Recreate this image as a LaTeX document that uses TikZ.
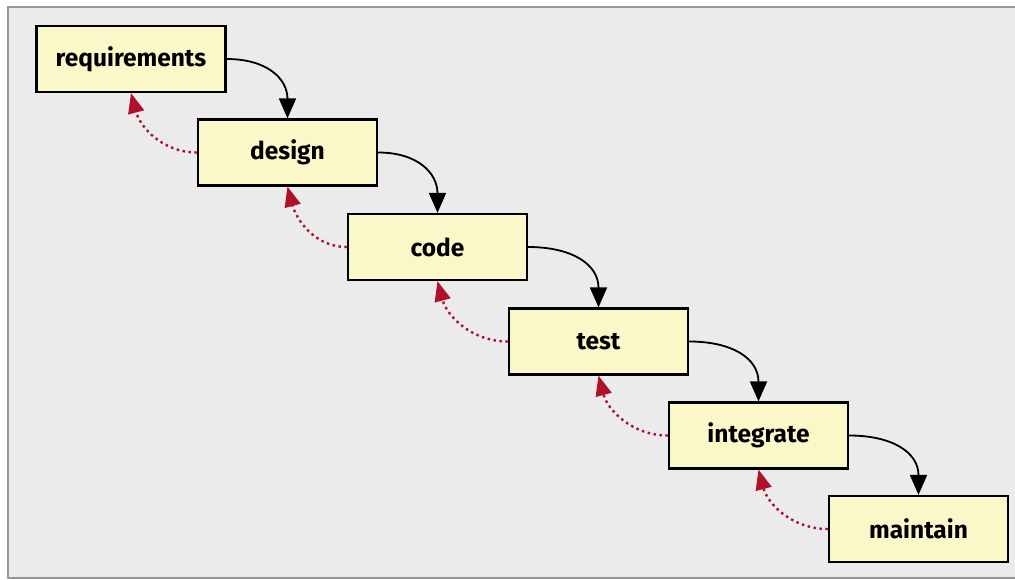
\documentclass[tikz,border=0pt]{standalone}
\usepackage{fontspec}
\setmainfont{Fira Sans}
\usetikzlibrary{arrows.meta}
\definecolor{bgray}{RGB}{235,235,235}
\definecolor{frame}{RGB}{150,150,150}
\definecolor{boxfill}{RGB}{250,248,200}
\definecolor{backred}{RGB}{176,16,42}
\tikzset{
  phase/.style={draw=black, line width=2.2pt, fill=boxfill, minimum height=66pt, minimum width=179pt, inner sep=0pt, font=\fontsize{24.5}{28}\selectfont\bfseries},
  fwd/.style={draw=black, line width=1.8pt, -{Triangle[length=20pt,width=17pt]}},
  back/.style={draw=backred, line width=2.4pt, dash pattern=on 2.5pt off 3.5pt, -{Triangle[length=20pt,width=16pt]}}
}
\begin{document}
\begin{tikzpicture}[x=1pt,y=-1pt]
\useasboundingbox (0,0) rectangle (1015,580);
\draw[draw=frame, line width=2pt, fill=bgray] (8,7) rectangle (1030,578);
\node[phase, minimum width=189pt] (req) at (131,59) {requirements};
\node[phase] (des) at (287.5,152.5) {design};
\node[phase] (cod) at (437.5,247) {code};
\node[phase] (tst) at (598.5,341.5) {test};
\node[phase] (int) at (758.5,435.5) {integrate};
\node[phase] (mnt) at (918.5,529) {maintain};
\draw[fwd] (req.east) to[out=0,in=90,looseness=1.2] (des.north);
\draw[fwd] (des.east) to[out=0,in=90,looseness=1.2] (cod.north);
\draw[fwd] (cod.east) to[out=0,in=90,looseness=1.2] (tst.north);
\draw[fwd] (tst.east) to[out=0,in=90,looseness=1.2] (int.north);
\draw[fwd] (int.east) to[out=0,in=90,looseness=1.2] (mnt.north);
\draw[back] (des.west) to[out=180,in=-75] (req.south);
\draw[back] (cod.west) to[out=180,in=-75] (des.south);
\draw[back] (tst.west) to[out=180,in=-75] (cod.south);
\draw[back] (int.west) to[out=180,in=-75] (tst.south);
\draw[back] (mnt.west) to[out=180,in=-75] (int.south);
\end{tikzpicture}
\end{document}
